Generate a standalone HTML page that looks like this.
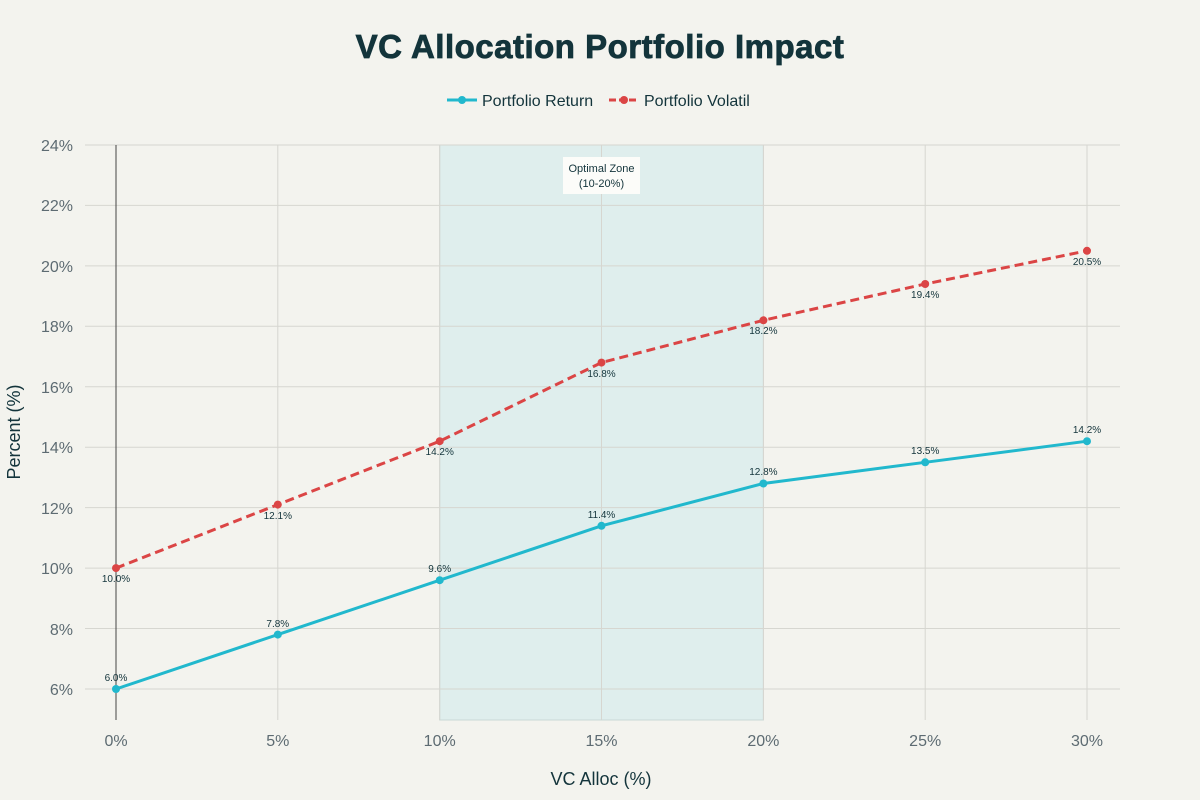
<!DOCTYPE html>
<html><head><meta charset="utf-8"><style>body{margin:0;background:#f3f3ee}svg{display:block}</style></head><body>
<svg width="1200" height="800" xmlns="http://www.w3.org/2000/svg" font-family="Liberation Sans, sans-serif">
<rect width="1200" height="800" fill="#f3f3ee"/>
<text x="600" y="58" text-anchor="middle" font-size="33" font-weight="bold" letter-spacing="0.5" fill="#13343b" stroke="#13343b" stroke-width="0.8">VC Allocation Portfolio Impact</text>
<line x1="447" y1="100" x2="477" y2="100" stroke="#21b8cd" stroke-width="3"/><circle cx="462" cy="100" r="4" fill="#21b8cd"/>
<text x="482" y="106" font-size="16" fill="#13343b">Portfolio Return</text>
<line x1="609" y1="100" x2="639" y2="100" stroke="#db4545" stroke-width="3" stroke-dasharray="7,3"/><circle cx="624" cy="100" r="4" fill="#db4545"/>
<text x="644" y="106" font-size="16" fill="#13343b">Portfolio Volatil</text>
<rect x="439.7" y="145" width="323.7" height="575" fill="#dfeeed" stroke="#c8d8d6"/>
<g stroke="#d6d6d0" stroke-width="1">
<line x1="85" x2="1120" y1="145" y2="145"/><line x1="85" x2="1120" y1="205.4" y2="205.4"/><line x1="85" x2="1120" y1="265.9" y2="265.9"/><line x1="85" x2="1120" y1="326.3" y2="326.3"/><line x1="85" x2="1120" y1="386.8" y2="386.8"/><line x1="85" x2="1120" y1="447.2" y2="447.2"/><line x1="85" x2="1120" y1="507.6" y2="507.6"/><line x1="85" x2="1120" y1="568.1" y2="568.1"/><line x1="85" x2="1120" y1="628.5" y2="628.5"/><line x1="85" x2="1120" y1="689" y2="689"/>
<line y1="145" y2="720" x1="277.8" x2="277.8"/><line y1="145" y2="720" x1="439.7" x2="439.7"/><line y1="145" y2="720" x1="601.5" x2="601.5"/><line y1="145" y2="720" x1="763.4" x2="763.4"/><line y1="145" y2="720" x1="925.2" x2="925.2"/><line y1="145" y2="720" x1="1087" x2="1087"/>
</g>
<line x1="116" x2="116" y1="145" y2="720" stroke="#444" stroke-width="1"/>
<g font-size="16" fill="#5d6b72" text-anchor="end">
<text x="73" y="151">24%</text><text x="73" y="211">22%</text><text x="73" y="272">20%</text><text x="73" y="332">18%</text><text x="73" y="393">16%</text><text x="73" y="453">14%</text><text x="73" y="514">12%</text><text x="73" y="574">10%</text><text x="73" y="635">8%</text><text x="73" y="695">6%</text>
</g>
<g font-size="16" fill="#5d6b72" text-anchor="middle">
<text x="116" y="746">0%</text><text x="277.8" y="746">5%</text><text x="439.7" y="746">10%</text><text x="601.5" y="746">15%</text><text x="763.4" y="746">20%</text><text x="925.2" y="746">25%</text><text x="1087" y="746">30%</text>
</g>
<text x="601" y="785" text-anchor="middle" font-size="18" fill="#13343b">VC Alloc (%)</text>
<text transform="translate(20,432) rotate(-90)" text-anchor="middle" font-size="18" fill="#13343b">Percent (%)</text>
<rect x="563" y="157" width="77" height="37" fill="#fcfcf9"/>
<text x="601.5" y="172" text-anchor="middle" font-size="11" fill="#13343b">Optimal Zone</text>
<text x="601.5" y="187" text-anchor="middle" font-size="11" fill="#13343b">(10-20%)</text>
<polyline fill="none" stroke="#21b8cd" stroke-width="3" points="116,689 277.8,634.6 439.7,580.2 601.5,525.8 763.4,483.5 925.2,462.3 1087,441.2"/>
<polyline fill="none" stroke="#db4545" stroke-width="3" stroke-dasharray="9,5" points="116,568.1 277.8,504.6 439.7,441.2 601.5,362.6 763.4,320.3 925.2,284 1087,250.8"/>
<g fill="#21b8cd"><circle cx="116" cy="689" r="4"/><circle cx="277.8" cy="634.6" r="4"/><circle cx="439.7" cy="580.2" r="4"/><circle cx="601.5" cy="525.8" r="4"/><circle cx="763.4" cy="483.5" r="4"/><circle cx="925.2" cy="462.3" r="4"/><circle cx="1087" cy="441.2" r="4"/></g>
<g fill="#db4545"><circle cx="116" cy="568.1" r="4"/><circle cx="277.8" cy="504.6" r="4"/><circle cx="439.7" cy="441.2" r="4"/><circle cx="601.5" cy="362.6" r="4"/><circle cx="763.4" cy="320.3" r="4"/><circle cx="925.2" cy="284" r="4"/><circle cx="1087" cy="250.8" r="4"/></g>
<g font-size="10" fill="#13343b" text-anchor="middle">
<text x="116" y="681">6.0%</text><text x="277.8" y="627">7.8%</text><text x="439.7" y="572">9.6%</text><text x="601.5" y="518">11.4%</text><text x="763.4" y="475">12.8%</text><text x="925.2" y="454">13.5%</text><text x="1087" y="433">14.2%</text>
<text x="116" y="582">10.0%</text><text x="277.8" y="519">12.1%</text><text x="439.7" y="455">14.2%</text><text x="601.5" y="377">16.8%</text><text x="763.4" y="334">18.2%</text><text x="925.2" y="298">19.4%</text><text x="1087" y="265">20.5%</text>
</g>
</svg>
</body></html>
